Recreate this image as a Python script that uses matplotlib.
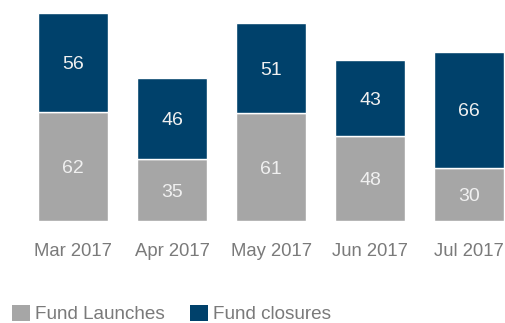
import matplotlib.pyplot as plt
from matplotlib.patches import Patch

plt.rcParams['font.family'] = ['Liberation Sans', 'DejaVu Sans']

months = ["Mar 2017", "Apr 2017", "May 2017", "Jun 2017", "Jul 2017"]
launches = [62, 35, 61, 48, 30]
closures = [56, 46, 51, 43, 66]

gray = '#a6a6a6'
blue = '#00416b'
label_col = '#7a7a7a'

fig = plt.figure(figsize=(5.05, 3.23), dpi=100)
ax = fig.add_axes([0, 0.3158, 1, 0.6842])

x = list(range(len(months)))
w = 0.707
ax.bar(x, launches, width=w, color=gray, edgecolor='white', linewidth=1)
ax.bar(x, closures, width=w, bottom=launches, color=blue, edgecolor='white', linewidth=1)

# value labels in the middle of each segment
for i in x:
    ax.text(i, launches[i] / 2, str(launches[i]), ha='center', va='center_baseline',
            color='#f0f0f0', fontsize=14)
    ax.text(i, launches[i] + closures[i] / 2, str(closures[i]), ha='center',
            va='center_baseline', color='#f0f0f0', fontsize=14)

ax.set_xlim(-73 / 99, (505 - 73) / 99)
ax.set_ylim(0, 125.2)
ax.axis('off')

# month labels under the bars
for i in x:
    fig.text(ax.transData.transform((i, 0))[0] / fig.bbox.width, 1 - 252 / 323,
             months[i], ha='center', va='center', color=label_col, fontsize=13.3)

handles = [Patch(facecolor=gray, label='Fund Launches'),
           Patch(facecolor=blue, label='Fund closures')]
leg = fig.legend(handles=handles, loc='center left', bbox_to_anchor=(12 / 505, 1 - 314 / 323),
                 ncol=2, frameon=False, fontsize=13.6, handlelength=0.95, handleheight=0.95,
                 handletextpad=0.27, columnspacing=1.35, borderaxespad=0, borderpad=0)
for t in leg.get_texts():
    t.set_color(label_col)

fig.savefig('out.png', dpi=100)
